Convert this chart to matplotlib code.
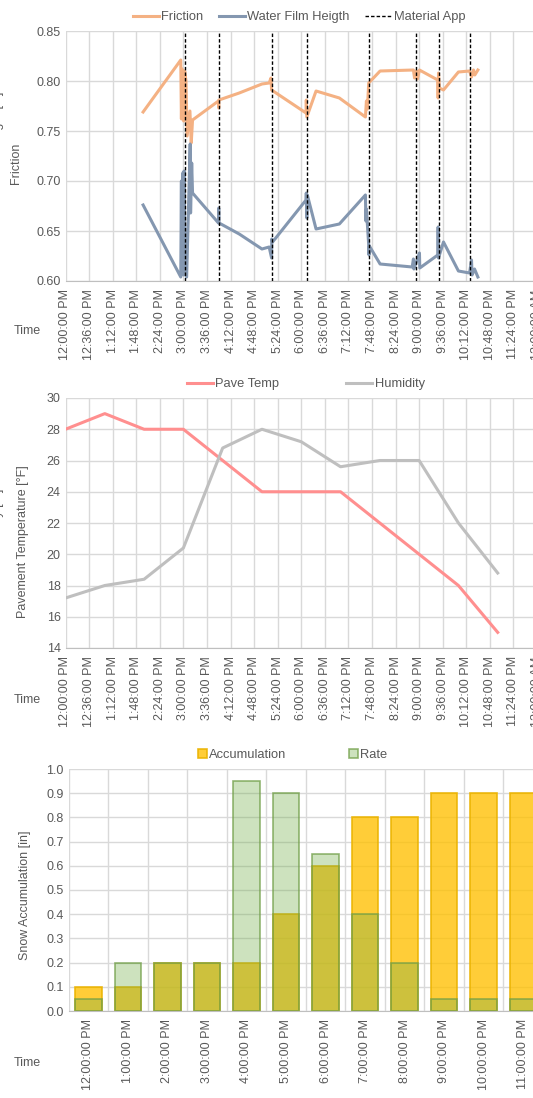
import numpy as np
import matplotlib.pyplot as plt
from matplotlib.ticker import FixedLocator, FuncFormatter, MultipleLocator

plt.rcParams['font.family'] = ['Liberation Sans', 'DejaVu Sans']

# data <<<
# top chart: minutes after 12:00 PM
fric_t = [118.5, 176, 177, 178, 180.4, 182, 184, 185.7, 190, 192, 194, 233.6, 234, 234.3,
          265.3, 300, 311, 313.8, 314.7, 367.3, 367.7, 368.5, 382.6, 418.2, 458, 459.5,
          461, 463, 480.4, 531.3, 533, 536, 537.5, 540.5, 568.5, 569, 569.6, 571, 577.2,
          600, 617, 620, 623, 625, 629.7]
friction = [0.769, 0.821, 0.762, 0.812, 0.760, 0.810, 0.800, 0.745, 0.770, 0.738, 0.761,
            0.780, 0.773, 0.781, 0.788, 0.797, 0.798, 0.803, 0.791, 0.768, 0.781, 0.764,
            0.790, 0.783, 0.764, 0.780, 0.772, 0.798, 0.810, 0.811, 0.803, 0.810, 0.802,
            0.811, 0.801, 0.783, 0.808, 0.793, 0.791, 0.809, 0.810, 0.804, 0.811, 0.806,
            0.811]
water_t = [118.5, 176, 177, 177.4, 179, 180, 181, 182.7, 185, 190.4, 191, 192.7, 194,
           233.6, 234, 234.5, 265.3, 300, 311, 314.7, 315, 316.2, 367.3, 367.7, 368.5,
           369.3, 382.6, 418.2, 458, 458.7, 459.5, 463, 463.5, 464, 480.4, 529.4, 531.3,
           532, 540.5, 541, 568.5, 569, 569.6, 577.2, 600, 617, 620, 620.8, 624.6, 629.7]
water_film = [0.676, 0.604, 0.700, 0.607, 0.708, 0.606, 0.710, 0.607, 0.604, 0.737, 0.668,
              0.718, 0.688, 0.658, 0.673, 0.658, 0.647, 0.632, 0.634, 0.623, 0.642, 0.639,
              0.681, 0.688, 0.663, 0.686, 0.652, 0.657, 0.686, 0.660, 0.672, 0.636, 0.626,
              0.635, 0.617, 0.614, 0.622, 0.612, 0.628, 0.613, 0.626, 0.654, 0.623, 0.639,
              0.610, 0.608, 0.621, 0.606, 0.612, 0.604]
material_app = [182.6, 234.7, 314.7, 368.8, 463, 535.5, 571, 617]

# middle chart: hourly, minutes after 12:00 PM
hour_t = [0, 60, 120, 180, 240, 300, 360, 420, 480, 540, 600, 660]
pave_temp = [28, 29, 28, 28, 26, 24, 24, 24, 22, 20, 18, 15]
humidity = [17.2, 18.0, 18.4, 20.4, 26.8, 28.0, 27.2, 25.6, 26.0, 26.0, 22.0, 18.8]

# bottom chart
bar_labels = ["12:00:00 PM", "1:00:00 PM", "2:00:00 PM", "3:00:00 PM", "4:00:00 PM",
              "5:00:00 PM", "6:00:00 PM", "7:00:00 PM", "8:00:00 PM", "9:00:00 PM",
              "10:00:00 PM", "11:00:00 PM"]
accumulation = [0.1, 0.1, 0.2, 0.2, 0.2, 0.4, 0.6, 0.8, 0.8, 0.9, 0.9, 0.9]
rate = [0.05, 0.2, 0.2, 0.2, 0.95, 0.9, 0.65, 0.4, 0.2, 0.05, 0.05, 0.05]
# >>>

W, H = 533, 1098
TXT = "#595959"
GRID = "#D9D9D9"


def box(left, top, right, bottom):
    return [left / W, 1 - bottom / H, (right - left) / W, (bottom - top) / H]


def fx(x):
    return x / W


def fy(y):
    return 1 - y / H


def clock(t, pos=None):
    t = int(round(t))
    h = (12 + t // 60) % 24
    suffix = "PM" if 12 <= h < 24 else "AM"
    h12 = h % 12 or 12
    return f"{h12}:{t % 60:02d}:00 {suffix}"


def style(ax):
    for s in ["left", "right", "top"]:
        ax.spines[s].set_visible(False)
    ax.spines["bottom"].set_color("#BFBFBF")
    ax.grid(True, color=GRID, linewidth=1)
    ax.set_axisbelow(True)
    ax.tick_params(length=0, colors=TXT, labelsize=9)
    ax.tick_params(axis="x", rotation=90, pad=6)


fig = plt.figure(figsize=(W / 100, H / 100), dpi=100)

# top chart <<<
ax1 = fig.add_axes(box(65.5, 31, 537, 281))
ax1.plot(fric_t, friction, color="#F4B183", lw=2.2, label="Friction")
ax1.plot(water_t, water_film, color="#8497B0", lw=2.2, label="Water Film Heigth")
for i, t in enumerate(material_app):
    ax1.axvline(t, color="black", lw=1, ls=(0, (2.5, 1.5)),
                label="Material App" if i == 0 else None)
ax1.set_xlim(0, 720)
ax1.set_ylim(0.60, 0.85)
ax1.xaxis.set_major_locator(FixedLocator(np.arange(0, 721, 36)))
ax1.xaxis.set_major_formatter(FuncFormatter(clock))
ax1.yaxis.set_major_locator(MultipleLocator(0.05))
ax1.yaxis.set_major_formatter(FuncFormatter(lambda v, p: f"{v:.2f}"))
style(ax1)
ax1.legend(loc="lower center", bbox_to_anchor=(0.495, 0.995), ncol=3, frameon=False,
           fontsize=9.3, labelcolor=TXT, handlelength=2.0, handletextpad=0.2,
           columnspacing=1.2, borderpad=0.2)
fig.text(fx(16.5), fy(163), "Friction", rotation=90, ha="center", va="center",
         color=TXT, fontsize=9)
fig.text(fx(-1.5), fy(152), "Water Film Heigth [in]", rotation=90, ha="center",
         va="center", color=TXT, fontsize=9)
fig.text(fx(27), fy(331), "Time", ha="center", va="center", color=TXT, fontsize=9)
# >>>

# middle chart <<<
ax2 = fig.add_axes(box(65.5, 398, 537, 648))
ax2.plot(hour_t, pave_temp, color="#FF8F8F", lw=2.2, label="Pave Temp")
ax2.plot(hour_t, humidity, color="#BFBFBF", lw=2.2, label="Humidity")
ax2.set_xlim(0, 720)
ax2.set_ylim(14, 30)
ax2.xaxis.set_major_locator(FixedLocator(np.arange(0, 721, 36)))
ax2.xaxis.set_major_formatter(FuncFormatter(clock))
ax2.yaxis.set_major_locator(MultipleLocator(2))
style(ax2)
ax2.legend(loc="lower center", bbox_to_anchor=(0.51, 0.995), ncol=2, frameon=False,
           fontsize=9.3, labelcolor=TXT, handlelength=2.0, handletextpad=0.2,
           columnspacing=5.2, borderpad=0.2)
fig.text(fx(23), fy(542), "Pavement Temperature [°F]", rotation=90, ha="center",
         va="center", color=TXT, fontsize=9)
fig.text(fx(-1.5), fy(548), "Relative Humidity [%]", rotation=90, ha="center",
         va="center", color=TXT, fontsize=9)
fig.text(fx(27), fy(700), "Time", ha="center", va="center", color=TXT, fontsize=9)
# >>>

# bottom chart <<<
ax3 = fig.add_axes(box(68.5, 769, 543, 1011))
x = np.arange(len(bar_labels))
ax3.bar(x, accumulation, width=0.67, color=(1.0, 0.753, 0.0, 0.78),
        edgecolor=(0.92, 0.70, 0.0, 0.9), linewidth=1.2, label="Accumulation")
ax3.bar(x, rate, width=0.67, color=(0.44, 0.68, 0.28, 0.35),
        edgecolor=(0.44, 0.62, 0.28, 0.75), linewidth=1.2, label="Rate")
ax3.set_xlim(-0.5, len(bar_labels) - 0.5)
ax3.set_ylim(0, 1.0)
ax3.set_xticks(x)
ax3.set_xticklabels(bar_labels)
ax3.xaxis.set_minor_locator(FixedLocator(np.arange(len(bar_labels) + 1) - 0.5))
ax3.yaxis.set_major_locator(MultipleLocator(0.1))
ax3.yaxis.set_major_formatter(FuncFormatter(lambda v, p: f"{v:.1f}"))
style(ax3)
ax3.grid(False)
ax3.grid(True, axis="y", color=GRID, linewidth=1)
ax3.grid(True, axis="x", which="minor", color=GRID, linewidth=1)
ax3.tick_params(which="minor", length=0)
ax3.legend(loc="lower center", bbox_to_anchor=(0.472, 0.995), ncol=2, frameon=False,
           fontsize=9.3, labelcolor=TXT, handlelength=0.7, handleheight=0.7,
           handletextpad=0.2, columnspacing=4.8, borderpad=0.2)
fig.text(fx(25), fy(895), "Snow Accumulation [in]", rotation=90, ha="center",
         va="center", color=TXT, fontsize=9)
fig.text(fx(27), fy(1063), "Time", ha="center", va="center", color=TXT, fontsize=9)
# >>>

fig.savefig("out.png", dpi=100)
